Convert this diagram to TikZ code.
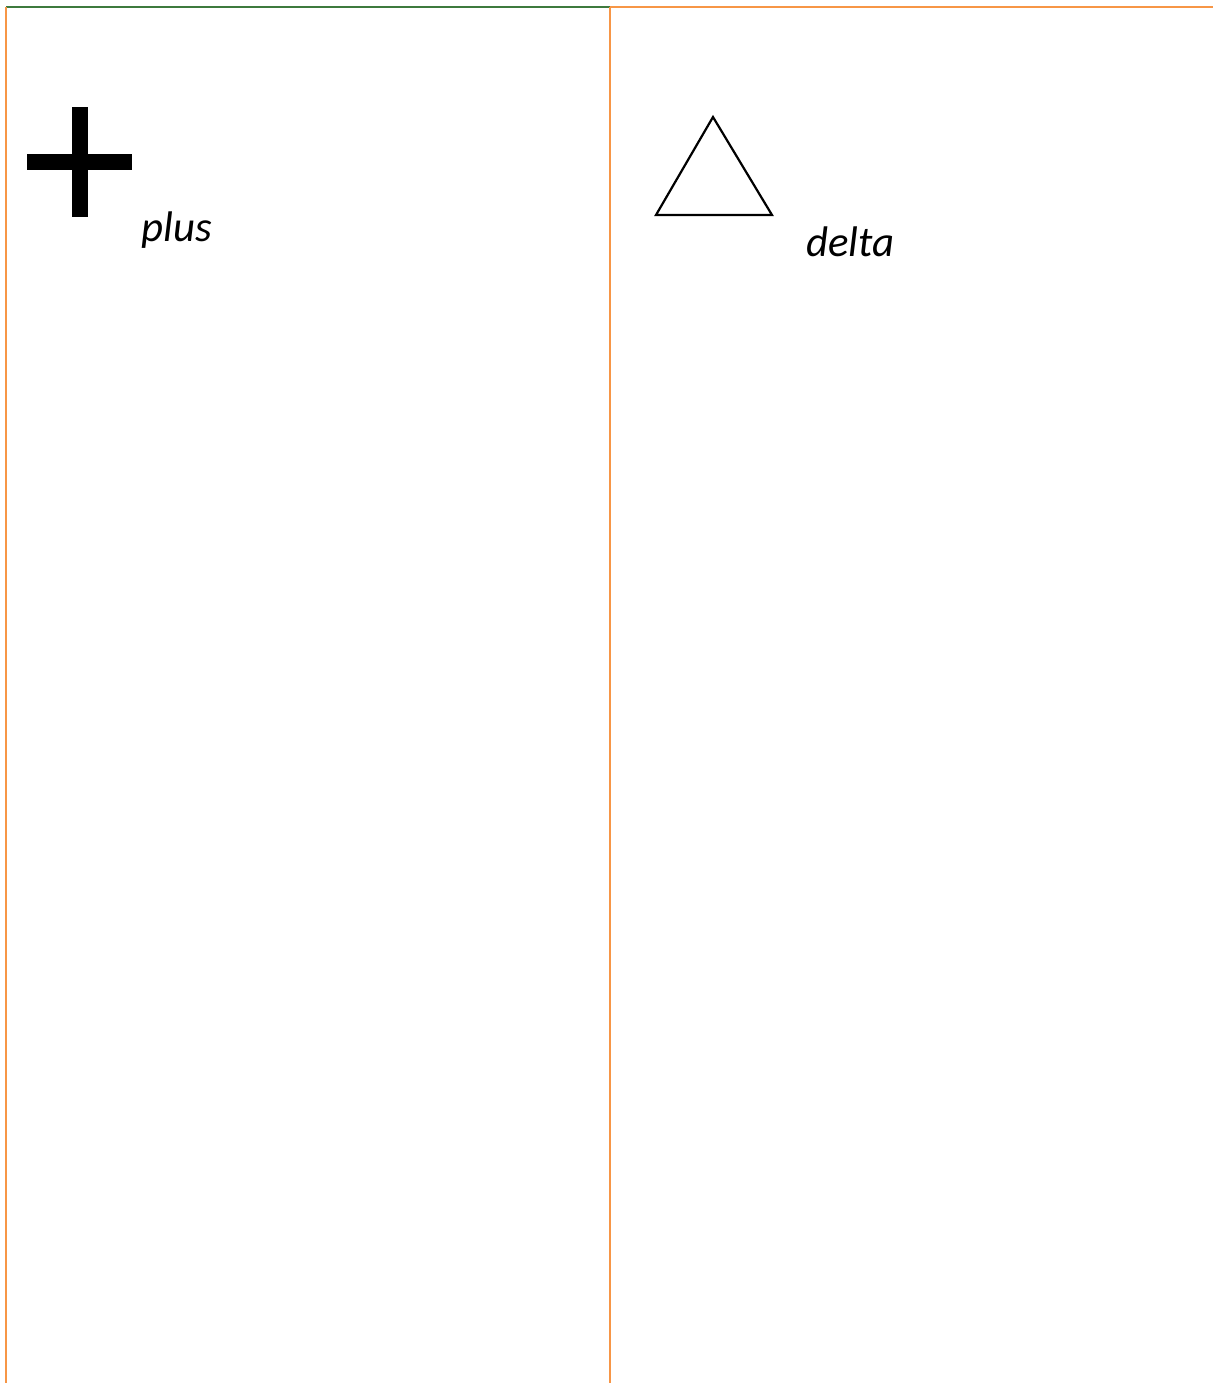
\documentclass[tikz,border=0pt]{standalone}
\usepackage{fontspec}
\setmainfont{Carlito}
\definecolor{framegreen}{RGB}{62,122,62}
\definecolor{frameorange}{RGB}{247,150,70}
\begin{document}
\begin{tikzpicture}[x=0.5pt,y=-0.5pt,
  frame/.style={line width=1pt},
  label/.style={anchor=base west,inner sep=0pt,font=\fontsize{21.4}{25}\selectfont\itshape}]
\useasboundingbox (0,0) rectangle (1213,1383);
% frame lines
\draw[frame,framegreen] (6,7) -- (610,7);
\draw[frame,frameorange] (610,7) -- (1213,7);
\draw[frame,frameorange] (6,7) -- (6,1383);
\draw[frame,frameorange] (610,7) -- (610,1383);
% plus sign
\fill[black] (72,107) rectangle (88,217);
\fill[black] (27,154) rectangle (132,170);
\node[label] (plus) at (141,241) {plus};
% triangle
\draw[line width=1.1pt,line join=miter] (713,117) -- (772,215) -- (656,215) -- cycle;
\node[label] (delta) at (806,256) {delta};
\end{tikzpicture}
\end{document}
